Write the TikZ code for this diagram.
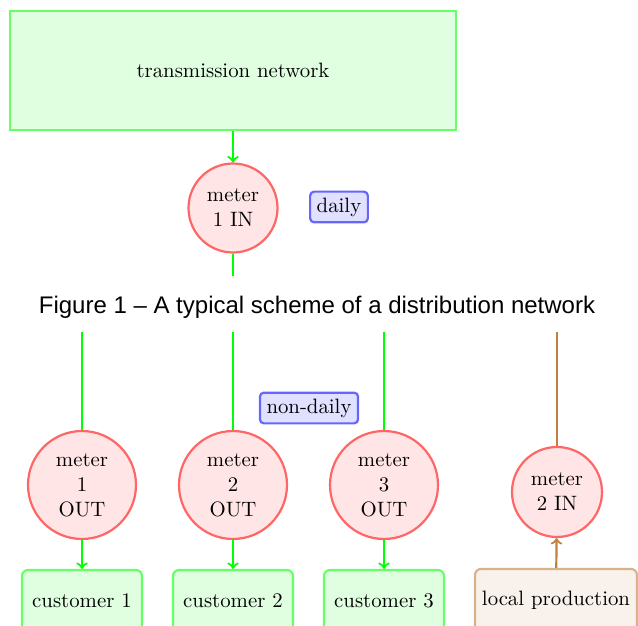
\documentclass[tikz,border=0pt]{standalone}
\usepackage{fontspec}
\newfontfamily\capfont{Liberation Sans}
\begin{document}
\begin{tikzpicture}[x=0.5pt,y=-0.5pt,
  every node/.style={font=\fontsize{10.4}{12.5}\selectfont},
  gbox/.style={draw=green!60, fill=green!12, line width=1.1pt},
  cbox/.style={gbox, rounded corners=3pt, minimum width=60pt, minimum height=31pt},
  meter/.style={circle, draw=red!60, fill=red!10, line width=1.1pt, align=center, inner sep=0pt},
  tag/.style={draw=blue!60, fill=blue!12, rounded corners=2pt, line width=1.1pt, inner xsep=3.3pt, inner ysep=3pt},
  gline/.style={draw=green, line width=1.1pt},
  bline/.style={draw=brown, line width=1.1pt}]
\clip (0,0) rectangle (638,626);
% upper part
\node[gbox, minimum width=223pt, minimum height=59.5pt] (tn) at (233,70.5) {transmission network};
\node[meter, minimum size=44.5pt] (m1in) at (233,208) {meter\\1 IN};
\node[tag] (daily) at (339,207) {daily};
\coordinate (c0) at (233,276);
\draw[gline,->] (tn) -- (m1in);
\draw[gline] (m1in) -- (c0);
% caption
\node[font=\capfont\fontsize{12}{14}\selectfont, inner sep=0pt] (cap) at (317,307) {Figure 1 – A typical scheme of a distribution network};
% lower part
\coordinate (t1) at (82,332);
\coordinate (t2) at (233,332);
\coordinate (t3) at (384,332);
\coordinate (t4) at (557,332);
\node[meter, minimum size=54pt] (o1) at (82,485) {meter\\1\\OUT};
\node[meter, minimum size=54pt] (o2) at (233,485) {meter\\2\\OUT};
\node[meter, minimum size=54pt] (o3) at (384,485) {meter\\3\\OUT};
\node[meter, minimum size=45pt] (m2in) at (557,492) {meter\\2 IN};
\node[tag] (nd) at (309,408) {non-daily};
\node[cbox] (k1) at (82,601) {customer 1};
\node[cbox] (k2) at (233,601) {customer 2};
\node[cbox] (k3) at (384,601) {customer 3};
\node[draw=brown!60, fill=brown!10, line width=1.1pt, rounded corners=3pt, minimum width=81pt, minimum height=31pt] (lp) at (556,600) {local production};
\draw[gline] (t1) -- (o1);
\draw[gline] (t2) -- (o2);
\draw[gline] (t3) -- (o3);
\draw[bline] (t4) -- (m2in);
\draw[gline,->] (o1) -- (k1);
\draw[gline,->] (o2) -- (k2);
\draw[gline,->] (o3) -- (k3);
\draw[bline,->] (lp) -- (m2in);
\end{tikzpicture}
\end{document}
